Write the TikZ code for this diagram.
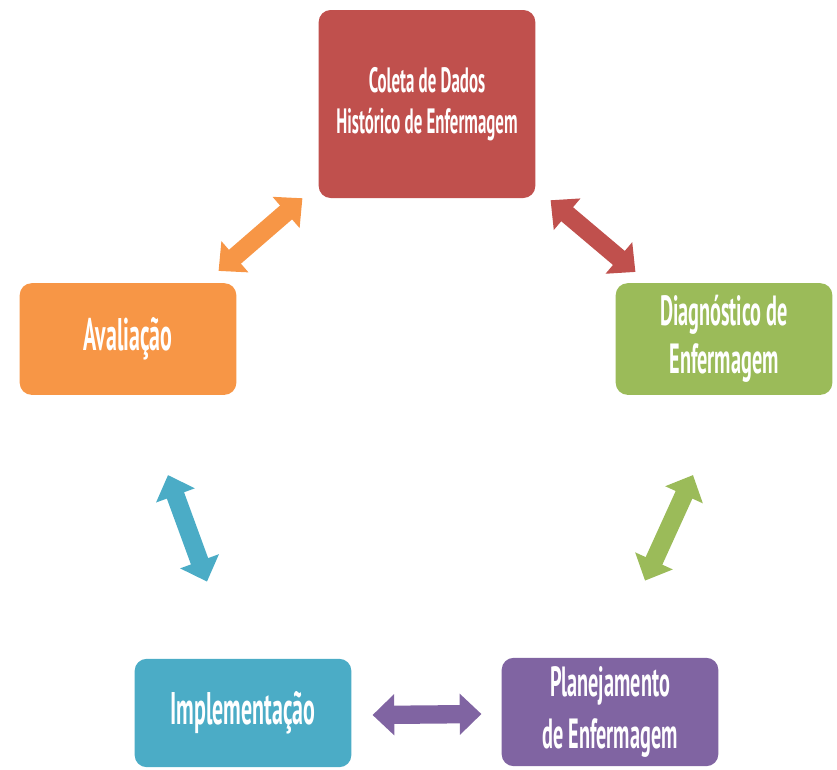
\documentclass[tikz,border=0pt]{standalone}
\usepackage{fontspec}
\setsansfont[FakeStretch=0.48]{PT Sans}
\usepackage{tikz}
\usetikzlibrary{arrows.meta}
\definecolor{redbox}{RGB}{192,80,77}
\definecolor{greenbox}{RGB}{155,187,89}
\definecolor{orangebox}{RGB}{247,150,70}
\definecolor{bluebox}{RGB}{75,172,198}
\definecolor{purplebox}{RGB}{128,100,162}

\begin{document}
\begin{tikzpicture}[
    x=0.3mm, y=-0.3mm,
    font=\sffamily\bfseries,
    stepbox/.style={rounded corners=3.6mm, text=white, align=center, minimum width=65mm, minimum height=32.5mm, inner sep=0pt},
    link/.style={{Triangle[length=6.5mm,width=12mm]}-{Triangle[length=6.5mm,width=12mm]}, line width=5.5mm}
]
\useasboundingbox (0,0) rectangle (837,769);

\node[stepbox, fill=redbox, minimum height=56.4mm, font=\sffamily\bfseries\fontsize{30}{35}\selectfont] (coleta) at (427,104) {Coleta de Dados\\Histórico de Enfermagem};
\node[stepbox, fill=greenbox, minimum height=33.5mm, font=\sffamily\bfseries\fontsize{36}{41}\selectfont] (diag) at (724,339) {Diagnóstico de\\Enfermagem};
\node[stepbox, fill=orangebox, minimum height=33.5mm, font=\sffamily\bfseries\fontsize{39}{41}\selectfont] (aval) at (128,339) {Avaliação};
\node[stepbox, fill=bluebox, font=\sffamily\bfseries\fontsize{39}{41}\selectfont] (impl) at (243,713) {Implementação};
\node[stepbox, fill=purplebox, font=\sffamily\bfseries\fontsize{36}{45}\selectfont] (plan) at (610,712) {Planejamento\\de Enfermagem};

\draw[link, orangebox] ([shift={(-18,-12)}]aval.north east) -- ([shift={(-16,0)}]coleta.south west);
\draw[link, redbox] ([shift={(15,2)}]coleta.south east) -- ([shift={(20,-11)}]diag.north west);
\draw[link, greenbox] ([shift={(-31,80)}]diag.south) -- ([shift={(35,-77)}]plan.north);
\draw[link, purplebox] ([shift={(-20,2)}]plan.west) -- ([shift={(21,2)}]impl.east);
\draw[link, bluebox] ([shift={(-36,-77)}]impl.north) -- ([shift={(40,80)}]aval.south);

\end{tikzpicture}
\end{document}
